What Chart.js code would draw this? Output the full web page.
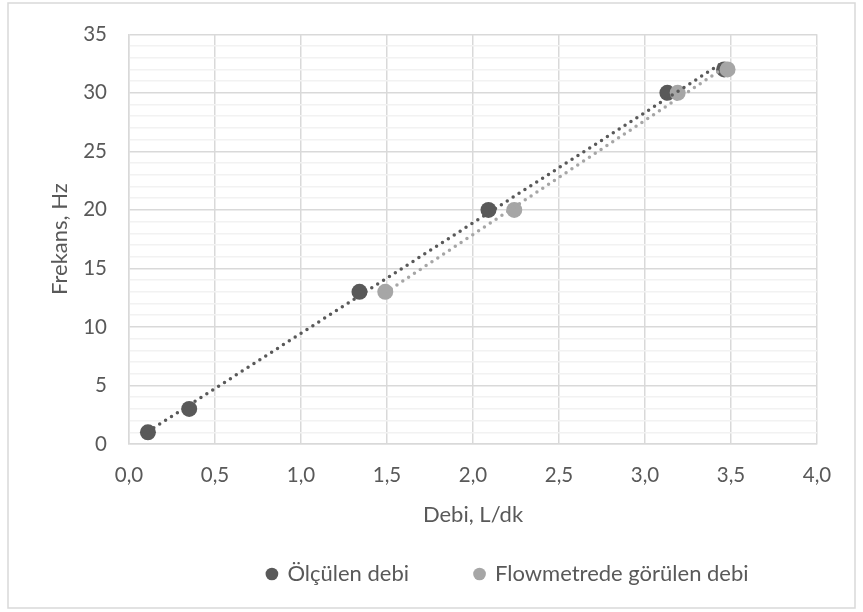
<!DOCTYPE html>
<html>
<head>
<meta charset="utf-8">
<script src="https://cdn.jsdelivr.net/npm/chart.js@4.4.1/dist/chart.umd.min.js"></script>
<style>
  body { margin: 0; background: #fff; }
</style>
</head>
<body>
<canvas id="debiChart" width="863" height="612"></canvas>
<script>
// Values
const olculenDebi = [0.11, 0.35, 1.34, 2.09, 3.13, 3.46];
const olculenFrekans = [1, 3, 13, 20, 30, 32];
const flowDebi = [1.49, 2.24, 3.19, 3.48];
const flowFrekans = [13, 20, 30, 32];
const seriesNames = ['Ölçülen debi', 'Flowmetrede görülen debi'];

const darkGrey = '#595959';
const lightGrey = '#a6a6a6';
const textGrey = '#595959';
const fontFamily = "Lato, 'Noto Sans', sans-serif";

// Excel style linear trendline, from min to max x of the series
function trendline(xs, ys) {
    const n = xs.length;
    const mx = xs.reduce((a, b) => a + b, 0) / n;
    const my = ys.reduce((a, b) => a + b, 0) / n;
    let sxy = 0, sxx = 0;
    for (let i = 0; i < n; i++) {
        sxy += (xs[i] - mx) * (ys[i] - my);
        sxx += (xs[i] - mx) * (xs[i] - mx);
    }
    const slope = sxy / sxx;
    const b = my - slope * mx;
    const x0 = Math.min(...xs), x1 = Math.max(...xs);
    return [{ x: x0, y: slope * x0 + b }, { x: x1, y: slope * x1 + b }];
}

const toPoints = (xs, ys) => xs.map((x, i) => ({ x: x, y: ys[i] }));

// white background + light frame round the whole chart
const frame = {
    id: 'frame',
    beforeDraw(chart) {
        const ctx = chart.ctx;
        ctx.save();
        ctx.fillStyle = '#fff';
        ctx.fillRect(0, 0, chart.width, chart.height);
        ctx.strokeStyle = '#d9d9d9';
        ctx.lineWidth = 1.5;
        ctx.strokeRect(8, 3, 847, 605);
        ctx.restore();
    }
};

// the legend sits a bit right of centre in the original
const legendShift = {
    id: 'legendShift',
    afterLayout(chart) {
        chart.legend.left += 76;
        chart.legend.right += 76;
    }
};

new Chart(document.getElementById('debiChart'), {
    type: 'scatter',
    data: {
        datasets: [
            {
                label: seriesNames[0],
                data: toPoints(olculenDebi, olculenFrekans),
                backgroundColor: darkGrey,
                borderWidth: 0,
                pointRadius: 8,
                order: 2
            },
            {
                label: seriesNames[1],
                data: toPoints(flowDebi, flowFrekans),
                backgroundColor: lightGrey,
                borderWidth: 0,
                pointRadius: 8,
                order: 1
            },
            {
                type: 'line',
                label: 'trend1',
                data: trendline(olculenDebi, olculenFrekans),
                borderColor: darkGrey,
                borderWidth: 3.5,
                borderDash: [0, 7],
                borderCapStyle: 'round',
                pointRadius: 0,
                fill: false,
                order: 0
            },
            {
                type: 'line',
                label: 'trend2',
                data: trendline(flowDebi, flowFrekans),
                borderColor: lightGrey,
                borderWidth: 3.5,
                borderDash: [0, 7],
                borderCapStyle: 'round',
                pointRadius: 0,
                fill: false,
                order: 0
            }
        ]
    },
    options: {
        responsive: false,
        animation: false,
        devicePixelRatio: 1,
        layout: { padding: { left: 47, right: 46, top: 32, bottom: 17 } },
        plugins: {
            tooltip: { enabled: false },
            legend: {
                position: 'bottom',
                labels: {
                    usePointStyle: true,
                    pointStyle: 'circle',
                    boxWidth: 9,
                    boxHeight: 9,
                    padding: 66,
                    color: textGrey,
                    font: { family: fontFamily, size: 22 },
                    filter: (item) => item.datasetIndex < 2,
                    sort: (a, b) => a.datasetIndex - b.datasetIndex
                }
            }
        },
        scales: {
            x: {
                type: 'linear',
                min: 0,
                max: 4,
                afterFit: (scale) => { scale.height = 53; },
                border: { color: '#d9d9d9', width: 1.5 },
                grid: { color: '#d9d9d9', lineWidth: 1.5, drawTicks: false },
                ticks: {
                    stepSize: 0.5,
                    padding: 19,
                    color: textGrey,
                    font: { family: fontFamily, size: 20.5 },
                    callback: (v) => v.toFixed(1).replace('.', ',')
                },
                title: {
                    display: true,
                    text: 'Debi, L/dk',
                    color: textGrey,
                    font: { family: fontFamily, size: 22 },
                    padding: { top: 0, bottom: -31 }
                }
            },
            y: {
                min: 0,
                max: 35,
                afterFit: (scale) => { scale.width = 82; },
                border: { color: '#d9d9d9', width: 1.5 },
                grid: {
                    color: (c) => (c.tick && c.tick.value % 5 === 0) ? '#d9d9d9' : '#f2f2f2',
                    lineWidth: 1.5,
                    drawTicks: false
                },
                ticks: {
                    stepSize: 1,
                    autoSkip: false,
                    padding: 22,
                    color: textGrey,
                    font: { family: fontFamily, size: 20.5 },
                    callback: (v) => (v % 5 === 0 ? v : '')
                },
                title: {
                    display: true,
                    text: 'Frekans, Hz',
                    color: textGrey,
                    font: { family: fontFamily, size: 22 },
                    padding: 0
                }
            }
        }
    },
    plugins: [frame, legendShift]
});
</script>
</body>
</html>
